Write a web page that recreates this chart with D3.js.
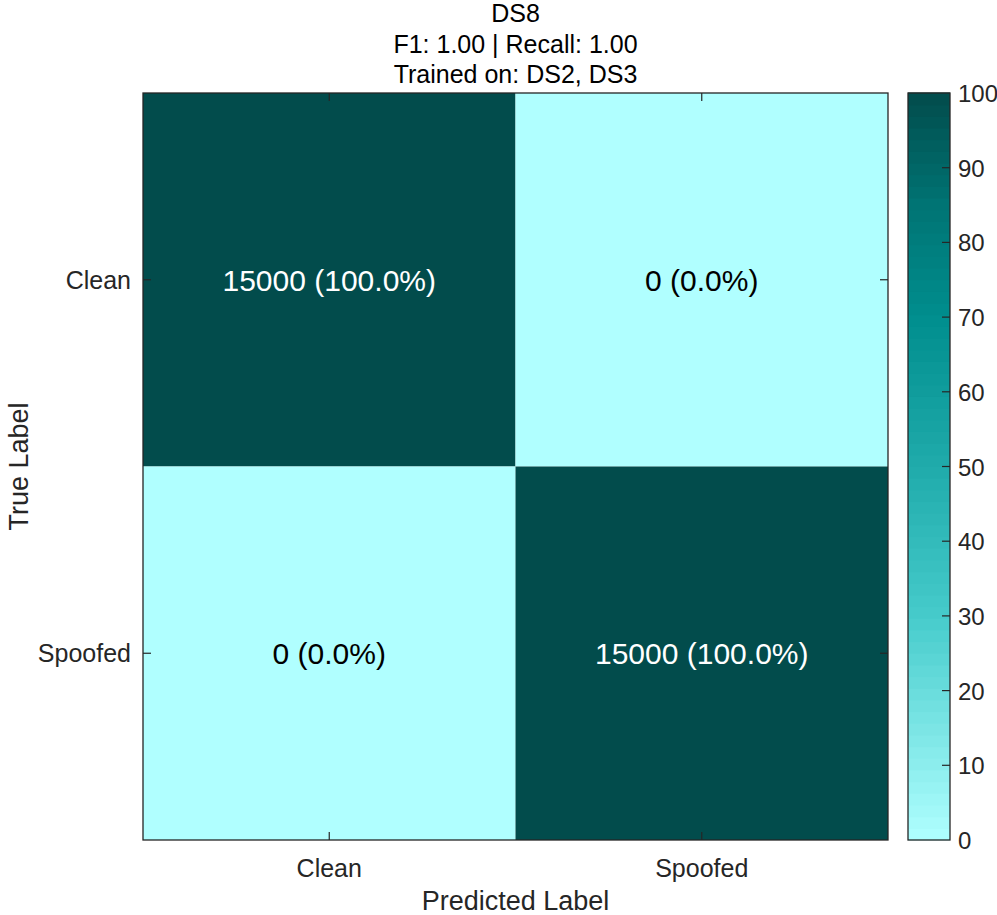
<!DOCTYPE html>
<html>
<head>
    <meta charset="utf-8">
    <style>
        body { margin: 0; background: #fff; }
        text { font-family: "Liberation Sans", Arial, sans-serif; fill: #262626; }
        .frame { fill: none; stroke: #262626; stroke-width: 1.3px; }
        .tick { stroke: #262626; stroke-width: 1.2px; }
    </style>
</head>
<body>
<div id="chart"></div>
<script src="https://cdn.jsdelivr.net/npm/d3@7"></script>
<script>

    var classes = ["Clean", "Spoofed"];
    // counts[true][predicted]
    var counts = [[15000, 0], [0, 15000]];
    var titleLines = ["DS8", "F1: 1.00 | Recall: 1.00", "Trained on: DS2, DS3"];
    var cbTicks = [0, 10, 20, 30, 40, 50, 60, 70, 80, 90, 100];

    var width = 997, height = 915;
    var plotL = 143, plotR = 888, plotT = 93, plotB = 840;
    var cbL = 908, cbR = 950;

    var svg = d3.select("#chart").append("svg")
        .attr("width", width)
        .attr("height", height);

    var color = d3.scaleLinear()
        .domain([0, 30, 50, 70, 85, 100])
        .range(["#b0ffff", "#46cbcb", "#20abab", "#008e8e", "#007474", "#024c4c"]);

    var x = d3.scaleBand().domain(classes).range([plotL, plotR]);
    var y = d3.scaleBand().domain(classes).range([plotT, plotB]);

    var cells = [];
    counts.forEach(function (row, i) {
        var total = d3.sum(row);
        row.forEach(function (v, j) {
            cells.push({t: classes[i], p: classes[j], v: v, pct: total ? v / total * 100 : 0});
        });
    });

    svg.selectAll("rect.cell")
        .data(cells)
        .enter()
        .append("rect")
        .attr("class", "cell")
        .attr("x", function (d) { return x(d.p); })
        .attr("y", function (d) { return y(d.t); })
        .attr("width", x.bandwidth())
        .attr("height", y.bandwidth())
        .attr("fill", function (d) { return color(d.pct); });

    svg.selectAll("text.cell")
        .data(cells)
        .enter()
        .append("text")
        .attr("class", "cell")
        .attr("x", function (d) { return x(d.p) + x.bandwidth() / 2; })
        .attr("y", function (d) { return y(d.t) + y.bandwidth() / 2 + 11; })
        .attr("text-anchor", "middle")
        .style("font-size", "30px")
        .style("fill", function (d) { return d.pct > 50 ? "#ffffff" : "#000000"; })
        .text(function (d) { return d.v + " (" + d.pct.toFixed(1) + "%)"; });

    // ticks on all four sides, pointing inward
    var tl = 8;
    classes.forEach(function (c) {
        var cx = x(c) + x.bandwidth() / 2;
        var cy = y(c) + y.bandwidth() / 2;
        svg.append("line").attr("class", "tick").attr("x1", cx).attr("x2", cx).attr("y1", plotB).attr("y2", plotB - tl);
        svg.append("line").attr("class", "tick").attr("x1", cx).attr("x2", cx).attr("y1", plotT).attr("y2", plotT + tl);
        svg.append("line").attr("class", "tick").attr("x1", plotL).attr("x2", plotL + tl).attr("y1", cy).attr("y2", cy);
        svg.append("line").attr("class", "tick").attr("x1", plotR).attr("x2", plotR - tl).attr("y1", cy).attr("y2", cy);

        svg.append("text")
            .attr("x", cx).attr("y", plotB + 37)
            .attr("text-anchor", "middle")
            .style("font-size", "25px")
            .text(c);
        svg.append("text")
            .attr("x", plotL - 12).attr("y", cy + 9)
            .attr("text-anchor", "end")
            .style("font-size", "25px")
            .text(c);
    });

    svg.append("rect").attr("class", "frame")
        .attr("x", plotL).attr("y", plotT)
        .attr("width", plotR - plotL).attr("height", plotB - plotT);

    // colorbar, drawn as 64 bands like the original colormap
    var cbScale = d3.scaleLinear().domain([0, 100]).range([plotB, plotT]);
    var step = 100 / 64;
    var steps = d3.range(0, 100, step);
    svg.selectAll("rect.cb")
        .data(steps)
        .enter()
        .append("rect")
        .attr("class", "cb")
        .attr("x", cbL)
        .attr("width", cbR - cbL)
        .attr("y", function (d) { return cbScale(d + step) - 0.5; })
        .attr("height", function (d) { return cbScale(d) - cbScale(d + step) + 1; })
        .attr("fill", function (d) { return color(d + step / 2); });

    svg.selectAll("line.cbtick")
        .data(cbTicks.slice(1, -1))
        .enter()
        .append("line")
        .attr("class", "tick")
        .attr("x1", cbR).attr("x2", cbR - tl)
        .attr("y1", function (d) { return cbScale(d); })
        .attr("y2", function (d) { return cbScale(d); });

    svg.selectAll("text.cbtick")
        .data(cbTicks)
        .enter()
        .append("text")
        .attr("x", cbR + 8)
        .attr("y", function (d) { return cbScale(d) + 9; })
        .style("font-size", "24px")
        .text(function (d) { return d; });

    svg.append("rect").attr("class", "frame")
        .attr("x", cbL).attr("y", plotT)
        .attr("width", cbR - cbL).attr("height", plotB - plotT);

    // titles and labels
    svg.selectAll("text.title")
        .data(titleLines)
        .enter()
        .append("text")
        .attr("x", (plotL + plotR) / 2)
        .attr("y", function (d, i) { return 22 + i * 30.5; })
        .attr("text-anchor", "middle")
        .style("font-size", "25px")
        .style("fill", "#000")
        .text(function (d) { return d; });

    svg.append("text")
        .attr("x", (plotL + plotR) / 2).attr("y", 910)
        .attr("text-anchor", "middle")
        .style("font-size", "27px")
        .text("Predicted Label");

    svg.append("text")
        .attr("transform", "translate(28," + ((plotT + plotB) / 2) + ") rotate(-90)")
        .attr("text-anchor", "middle")
        .style("font-size", "27px")
        .text("True Label");

</script>
</body>
</html>
